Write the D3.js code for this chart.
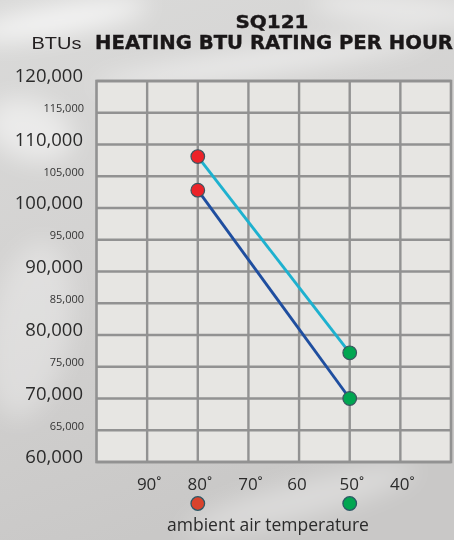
<!DOCTYPE html>
<html>
<head>
<meta charset="utf-8">
<script src="https://cdn.jsdelivr.net/npm/d3@7"></script>
<style>
  html, body { margin: 0; padding: 0; }
  body { width: 454px; height: 540px; overflow: hidden; }
  svg { display: block; }
</style>
</head>
<body>
<svg id="chart" width="454" height="540"></svg>
<script>
// data
const temps = [80, 50]
const upperBtu = [108100, 77200]   // light blue line
const lowerBtu = [102800, 70000]   // dark blue line
const pointColors = ["#ec2329", "#00a651"]
const legendColors = ["#d9432c", "#00a651"]
const xTicks = [90, 80, 70, 60, 50, 40]
const xTickLabels = ["90˚", "80˚", "70˚", "60", "50˚", "40˚"]
const majorTicks = [60000, 70000, 80000, 90000, 100000, 110000, 120000]
const minorTicks = [65000, 75000, 85000, 95000, 105000, 115000]

const svg = d3.select("#chart")
const W = 454, H = 540

/*
background
*/
const defs = svg.append("defs")
const bg = defs.append("linearGradient").attr("id", "bg")
  .attr("x1", 0).attr("y1", 0).attr("x2", 0.3).attr("y2", 1)
bg.append("stop").attr("offset", 0).attr("stop-color", "#dadad9")
bg.append("stop").attr("offset", 0.5).attr("stop-color", "#d3d2d1")
bg.append("stop").attr("offset", 1).attr("stop-color", "#c9c8c7")
const blur = defs.append("filter").attr("id", "blur").attr("x", "-50%").attr("y", "-50%")
  .attr("width", "200%").attr("height", "200%")
blur.append("feGaussianBlur").attr("stdDeviation", 12)

svg.append("rect").attr("width", W).attr("height", H).attr("fill", "url(#bg)")
// soft light streaks
const streaks = [
  {cx: 60, cy: 20, rx: 90, ry: 14, rot: -10, op: 0.75},
  {cx: 260, cy: 62, rx: 170, ry: 10, rot: -8, op: 0.6},
  {cx: 30, cy: 130, rx: 45, ry: 30, rot: 20, op: 0.5},
  {cx: 400, cy: 10, rx: 90, ry: 14, rot: 5, op: 0.5},
  {cx: 30, cy: 330, rx: 40, ry: 90, rot: 10, op: 0.3},
  {cx: 300, cy: 500, rx: 120, ry: 18, rot: -15, op: 0.35}
]
svg.append("g").attr("filter", "url(#blur)")
  .selectAll("ellipse").data(streaks).enter()
  .append("ellipse")
    .attr("cx", d => d.cx).attr("cy", d => d.cy)
    .attr("rx", d => d.rx).attr("ry", d => d.ry)
    .attr("transform", d => `rotate(${d.rot},${d.cx},${d.cy})`)
    .attr("fill", "#ffffff").attr("opacity", d => d.op)

/*
scales
*/
const x = d3.scaleLinear().domain([100, 30]).range([96.5, 451])
const y = d3.scaleLinear().domain([60000, 120000]).range([462, 81])

/*
plot area and grid
*/
const gridColor = "#929292"
svg.append("rect")
  .attr("x", x(100)).attr("y", y(120000))
  .attr("width", x(30) - x(100)).attr("height", y(60000) - y(120000))
  .attr("fill", "#e7e6e3")

const grid = svg.append("g").attr("stroke", gridColor).attr("stroke-width", 2.4)
grid.selectAll(".hgrid").data(majorTicks.concat(minorTicks)).enter()
  .append("line").attr("class", "hgrid")
    .attr("x1", x(100)).attr("x2", x(30))
    .attr("y1", d => y(d)).attr("y2", d => y(d))
grid.selectAll(".vgrid").data(xTicks).enter()
  .append("line").attr("class", "vgrid")
    .attr("x1", d => x(d)).attr("x2", d => x(d))
    .attr("y1", y(120000)).attr("y2", y(60000))
svg.append("rect")
  .attr("x", x(100)).attr("y", y(120000))
  .attr("width", x(30) - x(100)).attr("height", y(60000) - y(120000))
  .attr("fill", "none").attr("stroke", gridColor).attr("stroke-width", 2.6)

/*
y labels
*/
const fmt = d3.format(",")
const labelFont = "'Open Sans', 'Noto Sans', sans-serif"
svg.append("g").selectAll("text").data(majorTicks).enter()
  .append("text")
    .attr("x", 83).attr("y", d => y(d) + 1)
    .attr("text-anchor", "end")
    .attr("font-family", labelFont).attr("font-size", 18.5)
    .attr("fill", "#2b2b2b")
    .text(d => fmt(d))
svg.append("g").selectAll("text").data(minorTicks).enter()
  .append("text")
    .attr("x", 84).attr("y", d => y(d) - 0.5)
    .attr("text-anchor", "end")
    .attr("font-family", labelFont).attr("font-size", 11)
    .attr("fill", "#333")
    .text(d => fmt(d))

/*
x labels
*/
svg.append("g").selectAll("text").data(xTicks).enter()
  .append("text")
    .attr("x", (d, i) => x(d) + (xTickLabels[i].length > 2 ? 2 : -2))
    .attr("y", 490)
    .attr("text-anchor", "middle")
    .attr("font-family", labelFont).attr("font-size", 17)
    .attr("fill", "#2b2b2b")
    .text((d, i) => xTickLabels[i])

/*
lines and points
*/
const line = d3.line().x(d => x(d[0])).y(d => y(d[1]))
const upper = temps.map((t, i) => [t, upperBtu[i]])
const lower = temps.map((t, i) => [t, lowerBtu[i]])
svg.append("path").datum(upper).attr("d", line)
  .attr("fill", "none").attr("stroke", "#1eb1cf").attr("stroke-width", 2.9)
svg.append("path").datum(lower).attr("d", line)
  .attr("fill", "none").attr("stroke", "#1f4e9f").attr("stroke-width", 2.9)

const pts = upper.concat(lower).map(d => ({t: d[0], v: d[1]}))
svg.append("g").selectAll("circle").data(pts).enter()
  .append("circle")
    .attr("cx", d => x(d.t)).attr("cy", d => y(d.v)).attr("r", 6.8)
    .attr("fill", d => pointColors[temps.indexOf(d.t)])
    .attr("stroke", "#3b5560").attr("stroke-width", 1.2)

/*
legend
*/
svg.append("g").selectAll("circle").data(temps).enter()
  .append("circle")
    .attr("cx", d => x(d)).attr("cy", 503.5).attr("r", 6.8)
    .attr("fill", (d, i) => legendColors[i])
    .attr("stroke", "#2c5866").attr("stroke-width", 1.3)
svg.append("text")
  .attr("x", 268).attr("y", 531)
  .attr("text-anchor", "middle")
  .attr("font-family", labelFont).attr("font-size", 17.5)
  .attr("fill", "#2b2b2b")
  .text("ambient air temperature")

/*
titles
*/
svg.append("text")
  .attr("x", 272).attr("y", 28)
  .attr("text-anchor", "middle")
  .attr("font-family", "'DejaVu Sans', sans-serif").attr("font-weight", "bold")
  .attr("font-size", 18.5).attr("fill", "#1a1718")
  .attr("stroke", "#1a1718").attr("stroke-width", 0.4)
  .attr("textLength", 73).attr("lengthAdjust", "spacingAndGlyphs")
  .text("SQ121")
svg.append("text")
  .attr("x", 95).attr("y", 49)
  .attr("font-family", "'DejaVu Sans', sans-serif").attr("font-weight", "bold")
  .attr("font-size", 19.5).attr("fill", "#1a1718")
  .attr("stroke", "#1a1718").attr("stroke-width", 0.4)
  .attr("textLength", 358).attr("lengthAdjust", "spacingAndGlyphs")
  .text("HEATING BTU RATING PER HOUR")
svg.append("text")
  .attr("x", 31.5).attr("y", 49)
  .attr("font-family", "'Liberation Sans', Arial, sans-serif")
  .attr("font-size", 17).attr("fill", "#231f20")
  .attr("textLength", 50).attr("lengthAdjust", "spacingAndGlyphs")
  .text("BTUs")
</script>
</body>
</html>
